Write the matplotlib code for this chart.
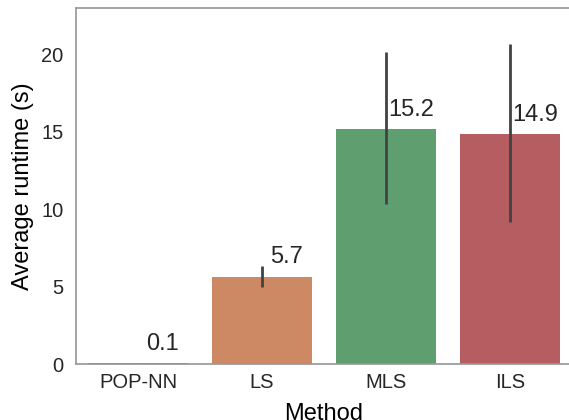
import matplotlib
matplotlib.use("Agg")
import matplotlib.pyplot as plt
import numpy as np

methods = ["POP-NN", "LS", "MLS", "ILS"]
means = [0.05, 5.65, 15.2, 14.87]
err_low = [0.03, 5.0, 10.35, 9.15]
err_high = [0.08, 6.3, 20.15, 20.7]
colors = ["#5975a4", "#cc8963", "#5f9e6e", "#b55d60"]
yticks = [0, 5, 10, 15, 20]

plt.rcParams['font.family'] = ['Liberation Sans', 'DejaVu Sans']
plt.rcParams['text.color'] = '#262626'

fig = plt.figure(figsize=(5.69, 4.20), dpi=100)
ax = fig.add_axes([76/569, 56/420, (572-76)/569, (364-8)/420])
x = np.arange(len(methods))
ax.bar(x, means, width=0.8, color=colors)
for xi, lo, hi in zip(x, err_low, err_high):
    ax.plot([xi, xi], [lo, hi], color='#424242', lw=2.0, solid_capstyle='butt')
for xi, m in zip(x, means):
    ax.text(xi + 0.2, m + 0.85, f"{m:.1f}", ha='center', va='baseline', fontsize=17, color='#262626')

ax.set_xlim(-0.5, 3.5)
ax.set_ylim(0, 23)
ax.set_xticks(x)
ax.set_xticklabels(methods)
ax.set_yticks(yticks)
ax.tick_params(axis='both', length=0, labelsize=14.5, colors='#262626')
ax.tick_params(axis='x', pad=6.5)
ax.tick_params(axis='y', pad=9)
for s in ax.spines.values():
    s.set_color('#999999')
    s.set_linewidth(1.25)
ax.set_xlabel("Method", fontsize=17, labelpad=8)
ax.set_ylabel("Average runtime (s)", fontsize=17, labelpad=5)

fig.savefig("out.png", dpi=100)
